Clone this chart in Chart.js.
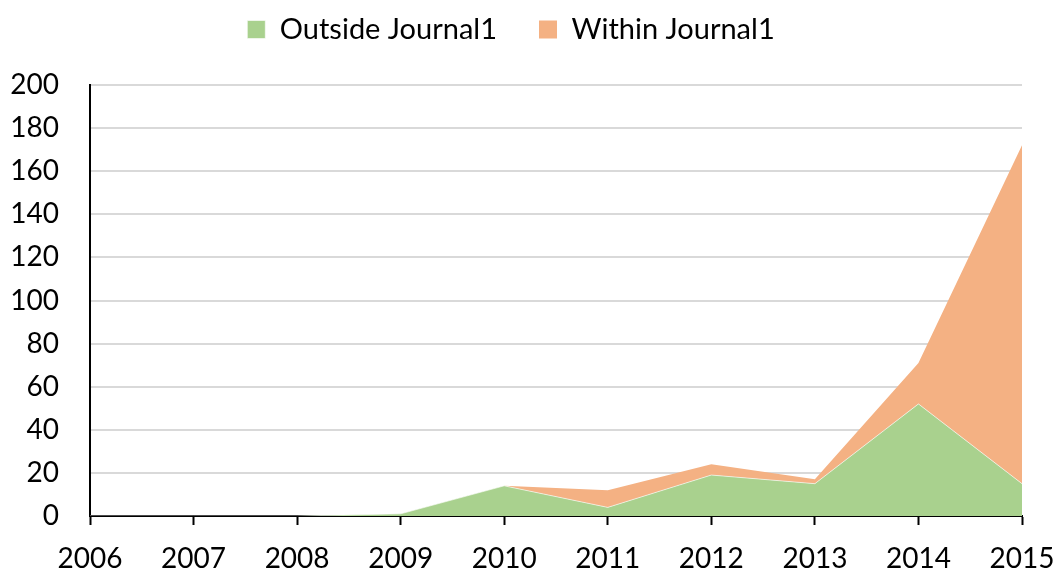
<!DOCTYPE html>
<html><head><meta charset="utf-8">
<script src="https://cdn.jsdelivr.net/npm/chart.js@4/dist/chart.umd.min.js"></script>
<style>html,body{margin:0;padding:0;background:#fff}#wrap{width:1057px;height:570px}</style>
</head><body><div id="wrap"><canvas id="c" width="1057" height="570"></canvas></div>
<script>
const years = ['2006','2007','2008','2009','2010','2011','2012','2013','2014','2015'];
const outsideJournal1 = [0,0,0,1,14,4,19,15,52,15];
const withinJournal1 = [0,0,0,0,0,8,5,2,19,157];
const yTicks = [0,20,40,60,80,100,120,140,160,180,200];

const FONT = 'Lato';
const legendFit = {
  id:'legendFit',
  beforeInit(chart){
    const lg = chart.legend; const f = lg.fit; const d = lg.draw;
    lg.fit = function(){ f.call(this); this.height = 85; };
    lg.draw = function(){ const c = this.ctx; c.save(); c.translate(0,-27); d.apply(this, arguments); c.restore(); };
  }
};
new Chart(document.getElementById('c'), {
  type:'line',
  data:{labels:years, datasets:[
    {label:'Outside Journal1', data:outsideJournal1, backgroundColor:'#a9d18e', borderColor:'rgba(255,255,255,0.6)', borderWidth:1, fill:'origin', pointRadius:0, tension:0},
    {label:'Within Journal1', data:withinJournal1, backgroundColor:'#f4b183', borderColor:'rgba(0,0,0,0)', borderWidth:0, fill:'-1', pointRadius:0, tension:0}
  ]},
  options:{
    responsive:false, animation:false, devicePixelRatio:1,
    layout:{padding:{left:0,right:35,top:0,bottom:0}},
    plugins:{
      legend:{position:'top', labels:{font:{family:FONT,size:29}, color:'#000', boxWidth:18, boxHeight:18, padding:42, useBorderRadius:false}},
      tooltip:{enabled:false}
    },
    scales:{
      x:{type:'category', offset:false,
        grid:{drawOnChartArea:false, drawTicks:true, tickLength:9, tickColor:'#000', tickWidth:2},
        border:{color:'#000', width:2},
        ticks:{font:{family:FONT,size:28}, color:'#000', padding:17, maxRotation:0, autoSkip:false},
        afterFit(s){ s.height = 54; s.paddingLeft = 0; s.paddingRight = 0; }
      },
      y:{stacked:true, min:0, max:200,
        afterBuildTicks(s){ s.ticks = yTicks.map(v=>({value:v})); },
        grid:{color:'#d9d9d9', lineWidth:2, drawTicks:false},
        border:{color:'#000', width:2},
        ticks:{font:{family:FONT,size:28}, color:'#000', padding:31},
        afterFit(s){ s.width = 90; s.paddingTop = 0; s.paddingBottom = 0; }
      }
    }
  },
  plugins:[legendFit]
});
</script></body></html>
